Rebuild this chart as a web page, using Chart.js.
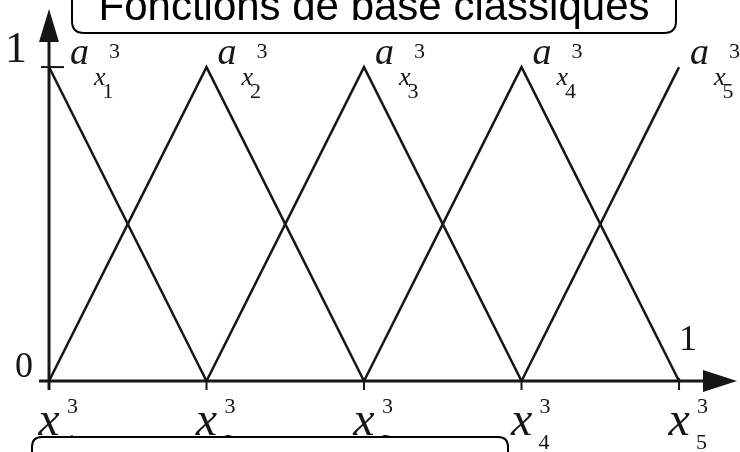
<!DOCTYPE html>
<html>
<head>
<meta charset="utf-8">
<script src="https://cdn.jsdelivr.net/npm/chart.js@4/dist/chart.umd.min.js"></script>
<style>
  html, body { margin: 0; padding: 0; background: #fff; }
  #wrap { width: 740px; height: 452px; }
</style>
</head>
<body>
<div id="wrap"><canvas id="chart" width="740" height="452"></canvas></div>
<script>
// node positions x_1 .. x_5
const nodes = [0, 1, 2, 3, 4]
const nodeNames = ['1', '2', '3', '4', '5']
const degree = '3'
// hat functions, value at each node (null = outside support)
const basis1 = [1, 0, null, null, null]
const basis2 = [0, 1, 0, null, null]
const basis3 = [null, 0, 1, 0, null]
const basis4 = [null, null, 0, 1, 0]
const basis5 = [null, null, null, 0, 1]
const yTicks = [0, 1]
const titleText = 'Fonctions de base classiques'

const allBasis = [basis1, basis2, basis3, basis4, basis5]
const ink = '#161616'
const serif = '"Liberation Serif", "DejaVu Serif", serif'

const toPoints = (vals) => {
    const pts = []
    vals.forEach((v, i) => {
        if (v !== null) pts.push({ x: nodes[i], y: v })
    })
    return pts
}

const roundBox = (ctx, x1, y1, x2, y2, r) => {
    ctx.beginPath()
    ctx.moveTo(x1 + r, y1)
    ctx.lineTo(x2 - r, y1)
    ctx.quadraticCurveTo(x2, y1, x2, y1 + r)
    ctx.lineTo(x2, y2 - r)
    ctx.quadraticCurveTo(x2, y2, x2 - r, y2)
    ctx.lineTo(x1 + r, y2)
    ctx.quadraticCurveTo(x1, y2, x1, y2 - r)
    ctx.lineTo(x1, y1 + r)
    ctx.quadraticCurveTo(x1, y1, x1 + r, y1)
    ctx.closePath()
    ctx.fillStyle = '#fff'
    ctx.fill()
    ctx.lineWidth = 2
    ctx.strokeStyle = '#000'
    ctx.stroke()
}

const text = (ctx, str, x, y, font, align) => {
    ctx.font = font
    ctx.textAlign = align || 'left'
    ctx.textBaseline = 'alphabetic'
    ctx.fillStyle = ink
    ctx.fillText(str, x, y)
}

// axes with arrows, ticks and math labels
const axesPlugin = {
    id: 'axesPlugin',
    afterDatasetsDraw(chart) {
        const ctx = chart.ctx
        const xs = chart.scales.x
        const ys = chart.scales.y
        const area = chart.chartArea
        const x0 = xs.getPixelForValue(nodes[0])
        const y0 = ys.getPixelForValue(0)
        ctx.save()
        ctx.strokeStyle = ink
        ctx.fillStyle = ink
        ctx.lineWidth = 3
        // x axis
        ctx.beginPath()
        ctx.moveTo(x0 - 10, y0)
        ctx.lineTo(area.right - 20, y0)
        ctx.stroke()
        ctx.beginPath()
        ctx.moveTo(area.right, y0)
        ctx.lineTo(area.right - 34, y0 - 11)
        ctx.lineTo(area.right - 34, y0 + 11)
        ctx.closePath()
        ctx.fill()
        // y axis
        ctx.beginPath()
        ctx.moveTo(x0, y0 + 9)
        ctx.lineTo(x0, area.top + 20)
        ctx.stroke()
        ctx.beginPath()
        ctx.moveTo(x0, area.top)
        ctx.lineTo(x0 - 10, area.top + 33)
        ctx.lineTo(x0 + 10, area.top + 33)
        ctx.closePath()
        ctx.fill()
        // ticks
        ctx.lineWidth = 2
        nodes.forEach(n => {
            const px = xs.getPixelForValue(n)
            ctx.beginPath()
            ctx.moveTo(px, y0 - 3)
            ctx.lineTo(px, y0 + 9)
            ctx.stroke()
        })
        const y1 = ys.getPixelForValue(1)
        ctx.beginPath()
        ctx.moveTo(x0 - 8, y1)
        ctx.lineTo(x0 + 15, y1)
        ctx.stroke()

        // y labels
        text(ctx, String(yTicks[1]), x0 - 22, ys.getPixelForValue(yTicks[1]) - 5, '44px ' + serif, 'right')
        text(ctx, String(yTicks[0]), x0 - 16, ys.getPixelForValue(yTicks[0]) - 4, '36px ' + serif, 'right')

        // x labels  x_i^3
        nodes.forEach((n, i) => {
            const px = xs.getPixelForValue(n)
            text(ctx, 'x', px, y0 + 54, 'italic 48px ' + serif, 'center')
            text(ctx, degree, px + 18, y0 + 32, '22px ' + serif)
            text(ctx, nodeNames[i], px + 17, y0 + 68, '22px ' + serif)
        })

        // peak labels  a_{x_i}^3
        nodes.forEach((n, i) => {
            const px = xs.getPixelForValue(n) + (i === 0 ? 21 : 11)
            text(ctx, 'a', px, y1 - 3, 'italic 38px ' + serif)
            text(ctx, degree, px + 39, y1 - 9, '22px ' + serif)
            text(ctx, 'x', px + 24, y1 + 18, 'italic 26px ' + serif)
            text(ctx, nodeNames[i], px + 38, y1 + 31, '22px ' + serif, 'center')
        })

        // value of last function at its node
        text(ctx, '1', xs.getPixelForValue(nodes[4]) + 0, y0 - 31, '36px ' + serif)
        ctx.restore()
    },
    afterDraw(chart) {
        const ctx = chart.ctx
        ctx.save()
        // title box, cut by the top edge
        roundBox(ctx, 72, -16, 676, 33, 12)
        ctx.font = '42px "Liberation Sans", Arial, sans-serif'
        ctx.textAlign = 'center'
        ctx.textBaseline = 'alphabetic'
        ctx.fillStyle = '#000'
        ctx.fillText(titleText, 374, 20)
        // empty caption box at the bottom
        roundBox(ctx, 32, 437, 508, 475, 10)
        ctx.restore()
    }
}

const datasets = allBasis.map((vals, i) => ({
    label: 'phi' + (i + 1),
    data: toPoints(vals),
    borderColor: ink,
    borderWidth: 2.5,
    pointRadius: 0,
    fill: false,
    tension: 0
}))

const ctx = document.getElementById('chart').getContext('2d')
const chart = new Chart(ctx, {
    type: 'line',
    data: { datasets: datasets },
    options: {
        responsive: false,
        animation: false,
        devicePixelRatio: 1,
        layout: { padding: { left: 49, right: 3, top: 9, bottom: 71 } },
        plugins: {
            legend: { display: false },
            tooltip: { enabled: false },
            title: { display: false }
        },
        scales: {
            x: { type: 'linear', min: 0, max: 4.368, display: false },
            y: { type: 'linear', min: 0, max: 1.185, display: false }
        }
    },
    plugins: [axesPlugin]
})
</script>
</body>
</html>
